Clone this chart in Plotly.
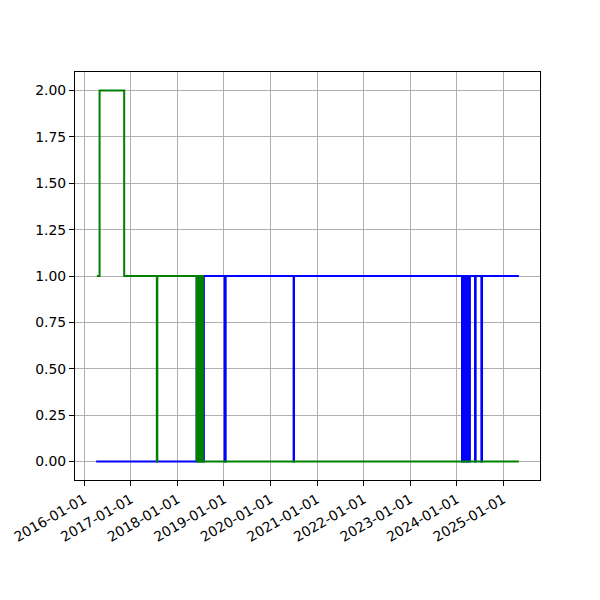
import plotly.graph_objects as go
import pandas as pd

# Change points (date, value) for each series
blue_dates = ["2016-04-04", "2018-06-01", "2018-06-05", "2018-06-10", "2018-06-14",
              "2018-06-19", "2018-06-24", "2018-06-29", "2018-07-04", "2018-07-09",
              "2018-07-14", "2018-07-19", "2018-07-24", "2018-07-28",
              "2019-01-07", "2019-01-15", "2020-07-01", "2020-07-04",
              "2024-02-12", "2024-02-18", "2024-02-24", "2024-03-02", "2024-03-08",
              "2024-03-15", "2024-03-21", "2024-03-28", "2024-04-04", "2024-04-14",
              "2024-05-24", "2024-05-29", "2024-07-13", "2024-07-18", "2025-05-03"]
blue_values = [0, 1, 0, 1, 0,
               1, 0, 1, 0, 1,
               0, 1, 0, 1,
               0, 1, 0, 1,
               0, 1, 0, 1, 0,
               1, 0, 1, 0, 1,
               0, 1, 0, 1, 1]

green_dates = ["2016-04-10", "2016-05-01", "2016-11-10", "2017-07-24", "2017-07-28",
               "2018-06-02", "2018-06-06", "2018-06-11", "2018-06-15", "2018-06-20",
               "2018-06-25", "2018-06-30", "2018-07-05", "2018-07-10", "2018-07-15",
               "2018-07-20", "2018-07-26", "2025-05-03"]
green_values = [1, 2, 1, 0, 1,
                0, 1, 0, 1, 0,
                1, 0, 1, 0, 1,
                0, 0, 0]

x_ticks = ["2016-01-01", "2017-01-01", "2018-01-01", "2019-01-01", "2020-01-01",
           "2021-01-01", "2022-01-01", "2023-01-01", "2024-01-01", "2025-01-01"]
y_ticks = [0.0, 0.25, 0.5, 0.75, 1.0, 1.25, 1.5, 1.75, 2.0]

fig = go.Figure()
fig.add_trace(go.Scatter(x=pd.to_datetime(blue_dates), y=blue_values, mode="lines",
                         line=dict(color="#0000ff", width=2, shape="hv"), showlegend=False))
fig.add_trace(go.Scatter(x=pd.to_datetime(green_dates), y=green_values, mode="lines",
                         line=dict(color="#008000", width=2, shape="hv"), showlegend=False))

all_dates = pd.to_datetime(blue_dates + green_dates)
dmin, dmax = all_dates.min(), all_dates.max()
span = dmax - dmin
xr = [dmin - span * 0.05, dmax + span * 0.05]

font = dict(family="DejaVu Sans", size=13.9, color="black")
fig.update_layout(
    width=592, height=592,
    margin=dict(l=67, r=60, t=64, b=120),
    plot_bgcolor="white", paper_bgcolor="white",
    font=font,
)
fig.update_xaxes(range=xr, tickvals=pd.to_datetime(x_ticks), ticktext=x_ticks,
                 tickangle=-30, automargin=False,
                 showgrid=True, gridcolor="#b0b0b0", gridwidth=1.1,
                 showline=True, linecolor="black", linewidth=1.1, mirror=True,
                 ticks="outside", ticklen=5, tickcolor="black", zeroline=False)
fig.update_yaxes(range=[-0.1, 2.1], tickvals=y_ticks, tickformat=".2f", automargin=False,
                 showgrid=True, gridcolor="#b0b0b0", gridwidth=1.1,
                 showline=True, linecolor="black", linewidth=1.1, mirror=True,
                 ticks="outside", ticklen=5, tickcolor="black", zeroline=False)

fig.write_html("out.html")
